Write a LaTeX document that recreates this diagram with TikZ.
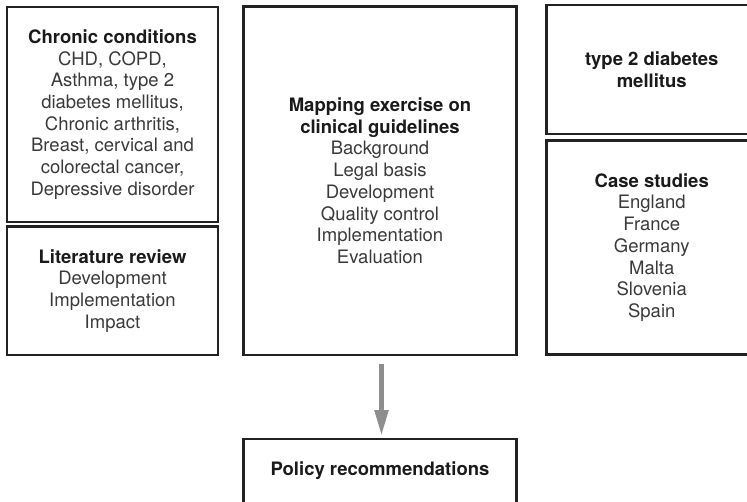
\documentclass[tikz,border=0pt]{standalone}
\usepackage{fontspec}
\setmainfont{TeX Gyre Heros}
\usetikzlibrary{arrows.meta}
\definecolor{boxline}{HTML}{222222}
\definecolor{headtxt}{HTML}{1A1A1A}
\definecolor{bodytxt}{HTML}{3A3A3A}
\definecolor{arrowgray}{HTML}{8E8E8E}
\newcommand{\hd}[1]{{\bfseries\color{headtxt}#1}}
\begin{document}
\begin{tikzpicture}[x=1pt,y=-1pt,
  panel/.style={draw=boxline, line width=2.5pt, align=center, inner sep=0pt,
    text=bodytxt, font=\fontsize{18.5}{21.7}\selectfont},
  flowarrow/.style={draw=arrowgray, line width=5pt,
    -{Triangle[length=26pt,width=13pt]}}]
\clip (0,0) rectangle (747,501);
\useasboundingbox (0,0) rectangle (747,501);
\node[panel, minimum width=211pt, minimum height=215pt] (chronic) at (112.5,114.5)
  {\hd{Chronic conditions}\\CHD, COPD,\\Asthma, type 2\\diabetes mellitus,\\Chronic arthritis,\\Breast, cervical and\\colorectal cancer,\\Depressive disorder};
\node[panel, minimum width=211pt, minimum height=128.5pt] (lit) at (112.5,290.75)
  {\hd{Literature review}\\Development\\Implementation\\Impact};
\node[panel, minimum width=273pt, minimum height=348.5pt] (mid) at (380,180.75)
  {\hd{Mapping exercise on}\\\hd{clinical guidelines}\\Background\\Legal basis\\Development\\Quality control\\Implementation\\Evaluation};
\node[panel, minimum width=210.5pt, minimum height=129pt] (t2) at (651.75,69.5)
  {\hd{type 2 diabetes}\\\hd{mellitus}};
\node[panel, minimum width=210.5pt, minimum height=214pt] (cases) at (651.75,247.5)
  {\hd{Case studies}\\England\\France\\Germany\\Malta\\Slovenia\\Spain};
\node[panel, minimum width=273pt, minimum height=64pt] (policy) at (380,471)
  {\hd{Policy recommendations}};
\draw[flowarrow, shorten <=7.75pt, shorten >=1.75pt] ([xshift=1.5pt]mid.south) -- ([xshift=1.5pt]policy.north);
\end{tikzpicture}
\end{document}
